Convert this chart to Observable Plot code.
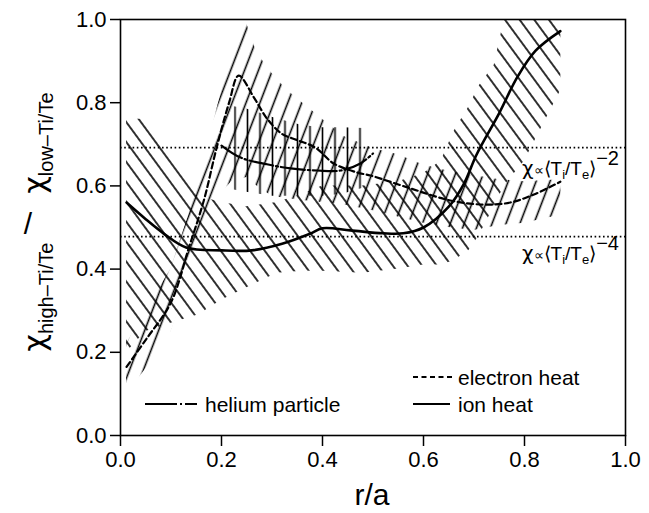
<!DOCTYPE html>
<html><head><meta charset="utf-8">
<script src="https://cdn.jsdelivr.net/npm/d3@7"></script>
<script src="https://cdn.jsdelivr.net/npm/@observablehq/plot@0.6"></script>
<style>html,body{margin:0;padding:0;background:#fff;} #chart svg{display:block}</style>
</head><body><div id="chart"></div>
<script>
// ---- data ----
const xTicks = [0, 0.2, 0.4, 0.6, 0.8, 1.0];
const yTicks = [0, 0.2, 0.4, 0.6, 0.8, 1.0];
const refLevels = [0.692, 0.478];

// ion heat curve
const ionR = [0.012, 0.05, 0.085, 0.13, 0.2, 0.26, 0.32, 0.375, 0.4, 0.455, 0.52, 0.56, 0.6, 0.65, 0.68, 0.705, 0.75, 0.786, 0.822, 0.871];
const ionV = [0.56, 0.52, 0.486, 0.452, 0.445, 0.445, 0.461, 0.485, 0.498, 0.493, 0.486, 0.486, 0.5, 0.55, 0.605, 0.675, 0.775, 0.862, 0.925, 0.972];
// ion heat error band
const ionBandR  = [0.012, 0.05, 0.1, 0.155, 0.2, 0.25, 0.31, 0.36, 0.4, 0.48, 0.55, 0.6, 0.635, 0.66, 0.69, 0.71, 0.74, 0.76, 0.8, 0.872];
const ionBandLo = [0.2, 0.25, 0.27, 0.29, 0.325, 0.355, 0.39, 0.395, 0.395, 0.39, 0.4, 0.41, 0.41, 0.42, 0.445, 0.48, 0.55, 0.6, 0.66, 0.83];
const ionBandHi = [0.76, 0.76, 0.677, 0.575, 0.56, 0.55, 0.56, 0.58, 0.6, 0.6, 0.61, 0.63, 0.66, 0.73, 0.79, 0.84, 0.89, 1.0, 1.0, 1.0];

// electron heat curve
const eleR = [0.012, 0.05, 0.1, 0.135, 0.165, 0.19, 0.215, 0.234, 0.264, 0.29, 0.32, 0.35, 0.386, 0.422, 0.469, 0.495, 0.574, 0.653, 0.72, 0.772, 0.82, 0.871];
const eleV = [0.165, 0.23, 0.32, 0.45, 0.565, 0.69, 0.8, 0.865, 0.813, 0.762, 0.725, 0.71, 0.692, 0.654, 0.632, 0.625, 0.594, 0.565, 0.555, 0.56, 0.58, 0.61];
// electron heat error band
const eleBandR  = [0.012, 0.05, 0.1, 0.135, 0.165, 0.19, 0.22, 0.25, 0.27, 0.3, 0.33, 0.36, 0.4, 0.44, 0.5, 0.55, 0.6, 0.65, 0.7, 0.75, 0.8, 0.872];
const eleBandLo = [0.10, 0.16, 0.25, 0.37, 0.47, 0.57, 0.61, 0.62, 0.6, 0.575, 0.57, 0.565, 0.56, 0.555, 0.54, 0.525, 0.51, 0.5, 0.493, 0.505, 0.51, 0.53];
const eleBandHi = [0.22, 0.3, 0.4, 0.53, 0.66, 0.78, 0.92, 0.99, 0.92, 0.87, 0.83, 0.8, 0.76, 0.72, 0.69, 0.675, 0.65, 0.635, 0.625, 0.615, 0.61, 0.615];

// helium particle curve
const heR = [0.2, 0.238, 0.29, 0.337, 0.39, 0.436, 0.475, 0.5];
const heV = [0.697, 0.668, 0.652, 0.642, 0.637, 0.637, 0.654, 0.678];
// helium particle error band
const heBandR  = [0.225, 0.25, 0.275, 0.3, 0.33, 0.36, 0.4, 0.44, 0.482];
const heBandLo = [0.59, 0.585, 0.58, 0.575, 0.575, 0.575, 0.575, 0.58, 0.595];
const heBandHi = [0.79, 0.785, 0.775, 0.765, 0.755, 0.745, 0.74, 0.74, 0.738];

const legendItems = ["electron heat", "ion heat", "helium particle"];

// ---- tables ----
const pts = (R, V) => R.map((r, i) => ({r, v: V[i]}));
const band = (R, L, Hh) => R.map((r, i) => ({r, lo: L[i], hi: Hh[i]}));

const FONT = "'Liberation Sans', Arial, Helvetica, sans-serif";
const GREEK = "'DejaVu Sans', 'Liberation Sans', sans-serif";

const plot = Plot.plot({
  width: 649, height: 513,
  marginLeft: 120, marginRight: 24, marginTop: 19, marginBottom: 78,
  style: {fontFamily: FONT, background: "white", color: "black"},
  x: {domain: [0, 1]},
  y: {domain: [0, 1]},
  marks: [
    Plot.areaY(band(ionBandR, ionBandLo, ionBandHi), {x: "r", y1: "lo", y2: "hi", fill: "url(#hatchIon)", curve: "linear"}),
    Plot.areaY(band(eleBandR, eleBandLo, eleBandHi), {x: "r", y1: "lo", y2: "hi", fill: "url(#hatchEle)", curve: "linear"}),
    Plot.areaY(band(heBandR, heBandLo, heBandHi), {x: "r", y1: "lo", y2: "hi", fill: "url(#hatchHe)", curve: "linear"}),
    Plot.ruleY(refLevels, {stroke: "black", strokeWidth: 1.8, strokeDasharray: "1.6,2.6"}),
    Plot.line(pts(ionR, ionV), {x: "r", y: "v", stroke: "black", strokeWidth: 2.6, curve: "catmull-rom"}),
    Plot.line(pts(eleR, eleV), {x: "r", y: "v", stroke: "black", strokeWidth: 2.2, strokeDasharray: "6,3.5", curve: "catmull-rom"}),
    Plot.line(pts(heR, heV), {x: "r", y: "v", stroke: "black", strokeWidth: 2.2, strokeDasharray: "24,3,2,3", curve: "catmull-rom"}),
    Plot.frame({stroke: "black", strokeWidth: 1.6}),
    Plot.axisX({ticks: xTicks, tickFormat: d3.format(".1f"), tickSize: 11, tickPadding: 5, fontSize: 22, label: null, strokeWidth: 1.5}),
    Plot.axisY({ticks: yTicks, tickFormat: d3.format(".1f"), tickSize: 10, tickPadding: 4, fontSize: 22, label: null, strokeWidth: 1.5})
  ]
});

const svg = d3.select(plot);
const defs = svg.insert("defs", ":first-child");
function hatch(id, angle, spacing, sw, tx = 0) {
  const p = defs.append("pattern").attr("id", id)
    .attr("patternUnits", "userSpaceOnUse")
    .attr("width", spacing).attr("height", 20)
    .attr("patternTransform", `translate(${tx},0) rotate(${angle})`);
  p.append("line").attr("x1", spacing / 2).attr("x2", spacing / 2)
    .attr("y1", -2).attr("y2", 22).attr("stroke", "black").attr("stroke-width", sw);
}
hatch("hatchIon", -36.3, 11.8, 1.6);
hatch("hatchEle", 21, 13, 1.6);
hatch("hatchHe", 0, 12.5, 1.6, 3.75);

// y-axis label
function ylab(cy, sub) {
  const t = svg.append("text").attr("transform", `translate(45,${cy}) rotate(-90)`)
    .attr("text-anchor", "middle").attr("font-family", FONT).attr("fill", "black");
  t.append("tspan").attr("font-size", 30).attr("font-family", GREEK).text("χ");
  t.append("tspan").attr("font-size", 20).attr("dy", 8).text(sub);
}
ylab(297, "high–Ti/Te");
ylab(143, "low–Ti/Te");
svg.append("text").attr("x", 28).attr("y", 234).attr("text-anchor", "middle")
  .attr("font-family", FONT).attr("font-size", 30).text("/");

// x-axis label
svg.append("text").attr("x", 372).attr("y", 505).attr("text-anchor", "middle")
  .attr("font-family", FONT).attr("font-size", 30).text("r/a");

// annotations of reference levels
function ann(y, exp) {
  const t = svg.append("text").attr("x", 619).attr("y", y).attr("text-anchor", "end")
    .attr("font-family", FONT).attr("fill", "black");
  t.append("tspan").attr("font-size", 20).attr("font-family", GREEK).text("χ");
  t.append("tspan").attr("font-size", 14).text("∝");
  t.append("tspan").attr("font-size", 19).text("⟨T");
  t.append("tspan").attr("font-size", 13).attr("dy", 4).text("i");
  t.append("tspan").attr("font-size", 19).attr("dy", -4).text("/T");
  t.append("tspan").attr("font-size", 13).attr("dy", 4).text("e");
  t.append("tspan").attr("font-size", 19).attr("dy", -4).text("⟩");
  t.append("tspan").attr("font-size", 20).attr("dy", -10).text(exp);
}
ann(175, "−2");
ann(260, "−4");

// legend
const lg = svg.append("g").attr("font-family", FONT).attr("font-size", 21)
  .attr("fill", "black").attr("text-anchor", "start");
function legendRow(x1, x2, y, dash, label, tx) {
  lg.append("line").attr("x1", x1).attr("x2", x2).attr("y1", y).attr("y2", y)
    .attr("stroke", "black").attr("stroke-width", 2).attr("stroke-dasharray", dash);
  lg.append("text").attr("x", tx).attr("y", y + 8).attr("text-anchor", "start").text(label);
}
legendRow(413, 452, 377, "5,3.5", legendItems[0], 458);
legendRow(413, 450, 404, null, legendItems[1], 458);
legendRow(145, 199, 404, "32,3,2,3,12", legendItems[2], 205);

document.getElementById("chart").appendChild(plot);
</script>
</body></html>
